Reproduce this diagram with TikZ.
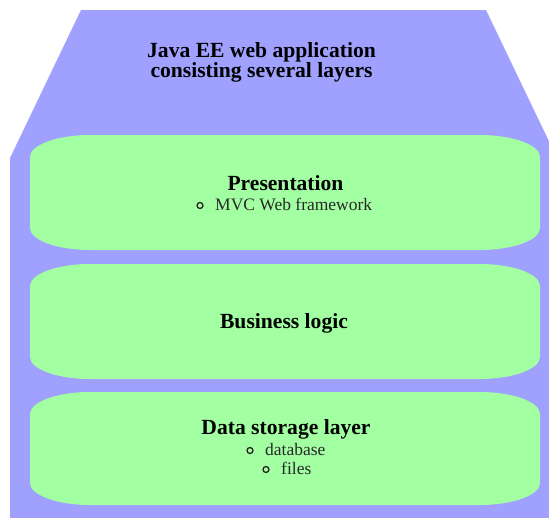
\documentclass[tikz,border=0pt]{standalone}
\usepackage{fontspec}
\setmainfont{Liberation Serif}
\definecolor{purp}{RGB}{160,160,255}
\definecolor{grn}{RGB}{162,255,162}
\definecolor{txt}{RGB}{40,40,40}
\newcommand\layershape[2]{%
  \fill[grn] (30,#1+22) .. controls (30,#1+10) and (57,#1) .. (90,#1) -- (480,#1)
    .. controls (513,#1) and (540,#1+10) .. (540,#1+22) -- (540,#2-22)
    .. controls (540,#2-10) and (513,#2) .. (480,#2) -- (90,#2)
    .. controls (57,#2) and (30,#2-10) .. (30,#2-22) -- cycle;}
\begin{document}
\begin{tikzpicture}[x=1pt,y=-1pt,
  headtext/.style={inner sep=0pt, anchor=base, font=\fontsize{21.6}{24}\selectfont\bfseries, text=black},
  itemtext/.style={inner sep=0pt, anchor=base west, font=\fontsize{17.5}{20}\selectfont, text=txt},
  bulletmark/.style={draw=black!85, line width=1.3pt, circle, inner sep=0pt, minimum size=6pt}]
\useasboundingbox (0,0) rectangle (549,517);
\begin{scope}
  \clip (0,0) rectangle (549,517);
  \fill[purp] (10,520) -- (10,158) -- (81,10) -- (486,10) -- (557,158) -- (557,520) -- cycle;
\end{scope}
\layershape{135}{250}
\layershape{264}{379}
\layershape{392}{505}
% title
\node[headtext] (title1) at (261.5,57) {Java EE web application};
\node[headtext] (title2) at (261.5,77.5) {consisting several layers};
% presentation
\node[headtext] (pres) at (285.5,190) {Presentation};
\node[bulletmark] (b1) at (200,205.5) {};
\node[itemtext] (mvc) at (215,210) {MVC Web framework};
% business
\node[headtext] (biz) at (284,328) {Business logic};
% data
\node[headtext] (data) at (286,434) {Data storage layer};
\node[bulletmark] (b2) at (250,450.5) {};
\node[itemtext] (db) at (265,455) {database};
\node[bulletmark] (b3) at (266,469.5) {};
\node[itemtext] (files) at (281,474) {files};
\end{tikzpicture}
\end{document}
